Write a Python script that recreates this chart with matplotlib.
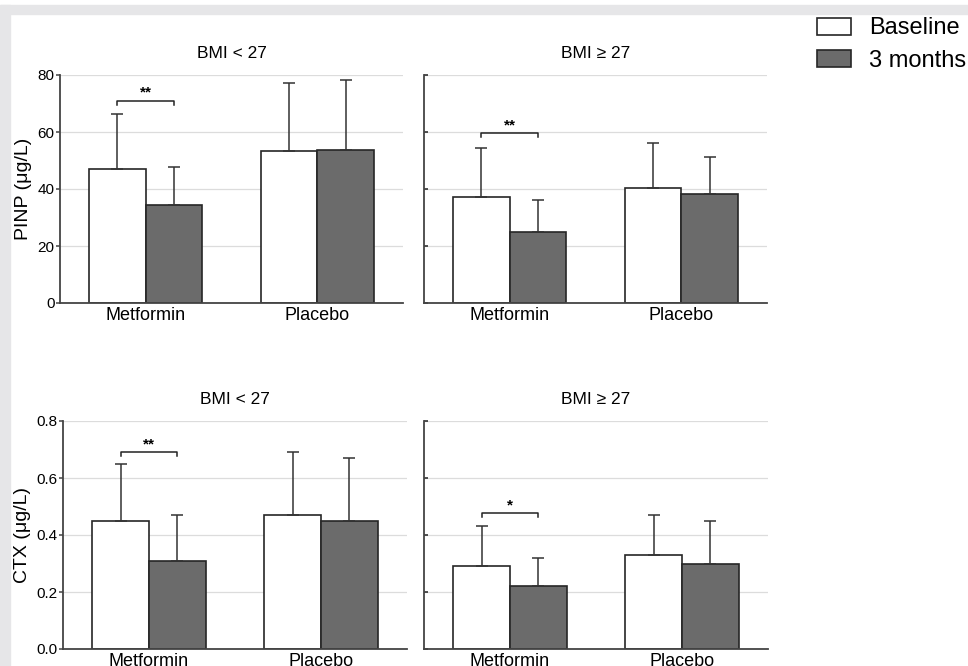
import matplotlib
matplotlib.use('Agg')
import matplotlib.pyplot as plt
from matplotlib.patches import Patch, Rectangle
import numpy as np

plt.rcParams['font.family'] = ['Liberation Sans', 'DejaVu Sans']

groups = ['Metformin', 'Placebo']
series = ['Baseline', '3 months']

# PINP (ug/L): means and SD, per BMI group
pinp_base_lo = [47.0, 53.5]
pinp_base_lo_sd = [19.4, 23.8]
pinp_3m_lo = [34.5, 53.7]
pinp_3m_lo_sd = [13.3, 24.5]
pinp_base_hi = [37.2, 40.4]
pinp_base_hi_sd = [17.2, 15.7]
pinp_3m_hi = [24.9, 38.3]
pinp_3m_hi_sd = [11.2, 12.9]

# CTX (ug/L)
ctx_base_lo = [0.45, 0.47]
ctx_base_lo_sd = [0.20, 0.22]
ctx_3m_lo = [0.31, 0.45]
ctx_3m_lo_sd = [0.16, 0.22]
ctx_base_hi = [0.29, 0.33]
ctx_base_hi_sd = [0.14, 0.14]
ctx_3m_hi = [0.22, 0.30]
ctx_3m_hi_sd = [0.10, 0.15]

# significance bracket height and label for Metformin in each panel
sig_y = [71.0, 59.6, 0.69, 0.476]
sig_txt = ['**', '**', '**', '*']

titles = ['BMI < 27', 'BMI \u2265 27', 'BMI < 27', 'BMI \u2265 27']

W, H = 968, 666
fig = plt.figure(figsize=(W / 100, H / 100), dpi=100)
fig.patch.set_facecolor('white')

# grey page frame
bg = '#e6e6e8'
fig.patches.append(Rectangle((0, 1 - 14 / H), 1, 9 / H, transform=fig.transFigure,
                             color=bg, zorder=0))
fig.patches.append(Rectangle((0, 0), 10 / W, 1 - 5 / H, transform=fig.transFigure,
                             color=bg, zorder=0))


def px_axes(x0, y0, x1, y1):
    return fig.add_axes([x0 / W, 1 - y1 / H, (x1 - x0) / W, (y1 - y0) / H])


boxes = [(60, 75, 403, 303), (424, 75, 767, 303),
         (63, 421, 407, 649), (424, 421, 768, 649)]
panel_data = [
    (pinp_base_lo, pinp_base_lo_sd, pinp_3m_lo, pinp_3m_lo_sd),
    (pinp_base_hi, pinp_base_hi_sd, pinp_3m_hi, pinp_3m_hi_sd),
    (ctx_base_lo, ctx_base_lo_sd, ctx_3m_lo, ctx_3m_lo_sd),
    (ctx_base_hi, ctx_base_hi_sd, ctx_3m_hi, ctx_3m_hi_sd),
]

x = np.arange(len(groups))
bw = 0.33
edge = '#262626'
dark = '#6b6b6b'
axcol = '#444444'

for i, (box, (b, bsd, m, msd)) in enumerate(zip(boxes, panel_data)):
    ax = px_axes(*box)
    ax.set_axisbelow(True)
    ekw = dict(ecolor='#333333', elinewidth=1.1, capsize=4, capthick=1.1)
    ax.bar(x - bw / 2, b, bw, color='white', edgecolor=edge, linewidth=1.2,
           yerr=[np.zeros(len(b)), bsd], error_kw=ekw)
    ax.bar(x + bw / 2, m, bw, color=dark, edgecolor=edge, linewidth=1.2,
           yerr=[np.zeros(len(m)), msd], error_kw=ekw)

    ax.set_xlim(-0.5, 1.5)
    ax.set_xticks(x)
    ax.set_xticklabels(groups, fontsize=13)
    ax.tick_params(axis='x', length=0, pad=3)

    if i < 2:
        ax.set_ylim(0, 80)
        ax.set_yticks([0, 20, 40, 60, 80])
    else:
        ax.set_ylim(0, 0.8)
        ax.set_yticks([0.0, 0.2, 0.4, 0.6, 0.8])
        ax.set_yticklabels(['0.0', '0.2', '0.4', '0.6', '0.8'])

    ax.grid(axis='y', color='#dcdcdc', linewidth=0.9)
    for s in ['top', 'right']:
        ax.spines[s].set_visible(False)
    for s in ['left', 'bottom']:
        ax.spines[s].set_color(axcol)
        ax.spines[s].set_linewidth(1.3)

    if i % 2 == 0:
        ax.tick_params(axis='y', direction='out', length=3, width=1.1,
                       color=axcol, labelsize=11, pad=1)
        ax.set_ylabel('PINP (\u03bcg/L)' if i == 0 else 'CTX (\u03bcg/L)',
                      fontsize=14, labelpad=4)
    else:
        ax.tick_params(axis='y', direction='in', length=3, width=1.1,
                       color='#222222', labelleft=False)

    ax.set_title(titles[i], fontsize=12.5, pad=12)

    # significance bracket over Metformin
    yl = ax.get_ylim()[1]
    tk = 0.018 * yl
    x0, x1 = x[0] - bw / 2, x[0] + bw / 2
    ax.plot([x0, x0, x1, x1], [sig_y[i] - tk, sig_y[i], sig_y[i], sig_y[i] - tk],
            color='#222222', linewidth=1.1, clip_on=False)
    ax.text(x[0], sig_y[i] + 0.005 * yl, sig_txt[i], ha='center', va='bottom',
            fontsize=11, fontweight='bold')

handles = [Patch(facecolor='white', edgecolor=edge, linewidth=1.2),
           Patch(facecolor=dark, edgecolor=edge, linewidth=1.2)]
fig.legend(handles, series, loc='upper left', bbox_to_anchor=(808 / W, 1 - 8 / H),
           frameon=False, fontsize=17, handlelength=1.4, handleheight=0.75,
           handletextpad=0.8, labelspacing=0.45, borderaxespad=0)

fig.savefig('out.png', dpi=100)
